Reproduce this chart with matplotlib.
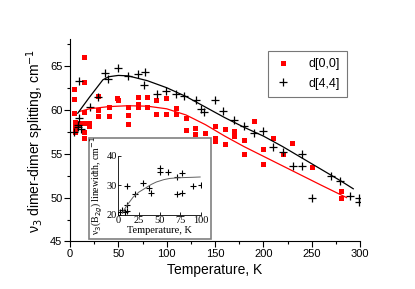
import numpy as np
import matplotlib.pyplot as plt
from matplotlib.patches import Rectangle
from matplotlib.ticker import MultipleLocator

# d[0,0] splitting, red squares
t_red = [4, 4, 4.5, 5, 5, 5, 8, 9, 10, 14.5, 14.5, 14.5, 14.5, 14.5, 14.5, 20, 20,
         29, 29, 29, 40, 40, 49, 49.5, 59.5, 59.5, 59.5, 70, 70, 70, 80, 80,
         89, 89, 99.5, 99.5, 110, 110, 120, 120, 129.5, 129.5, 140, 150, 150, 150,
         160, 160, 170, 170, 180, 180, 190, 200, 200, 210, 220, 230, 250, 280, 280]
v_red = [62.4, 61.2, 59.6, 58.6, 58.0, 57.5, 58.5, 58.3, 58.5, 66.0, 63.1, 59.7, 58.5, 57.5, 56.8, 58.5, 58.1,
         61.6, 60.0, 59.3, 60.3, 59.3, 61.3, 61.1, 60.3, 59.4, 58.4, 61.5, 60.7, 60.3, 61.5, 60.3,
         61.1, 59.5, 61.3, 59.5, 60.2, 59.5, 59.1, 57.7, 57.9, 57.2, 57.4, 58.1, 56.8, 56.4,
         57.8, 56.1, 57.6, 57.0, 56.6, 55.0, 58.7, 55.5, 53.8, 56.8, 54.9, 56.2, 53.5, 50.7, 49.9]

# d[4,4] splitting, black crosses
t_blk = [4, 8, 8.5, 9, 9.7, 11, 20.7, 29.3, 36, 39.7, 50, 60.4, 70.7, 76.6, 77.6,
         89.5, 99.5, 109.7, 117.5, 130, 135.5, 139, 150, 158.7, 170, 180.4, 190, 200,
         210, 220, 230.5, 240, 240, 250, 269.5, 279.5, 290, 298.5, 298.5]
v_blk = [57.5, 58.0, 58.3, 59.1, 63.3, 57.8, 60.3, 61.5, 64.2, 63.5, 64.8, 63.8, 64.1, 62.8, 64.3,
         61.8, 62.1, 61.8, 61.6, 61.1, 60.1, 59.7, 61.1, 59.8, 58.8, 58.2, 57.4, 57.6,
         55.7, 55.2, 53.6, 54.9, 53.6, 50.0, 52.5, 51.9, 50.2, 49.9, 49.5]

# fit curves
fit_red_t = [10, 20, 40, 60, 80, 100, 120, 140, 160, 180, 200, 220, 240, 260, 286]
fit_red_v = [59.8, 60.1, 60.35, 60.45, 60.4, 60.1, 59.4, 58.3, 57.0, 55.8, 54.7, 53.6, 52.5, 51.4, 50.0]
fit_blk_t = [8, 20, 34, 40, 50, 60, 80, 100, 120, 140, 160, 180, 200, 220, 240, 260, 280, 293]
fit_blk_v = [59.6, 61.4, 63.4, 63.75, 63.9, 63.85, 63.3, 62.5, 61.5, 60.3, 59.1, 58.0, 57.0, 55.8, 54.5, 53.2, 51.9, 51.0]

# inset: linewidth vs temperature
t_ins = [2, 5, 8, 10, 10, 11, 20, 30, 37, 40, 50, 50, 60, 71, 71, 77, 77, 90, 100]
w_ins = [21.1, 21.5, 20.8, 21.3, 23.2, 29.8, 27.0, 30.8, 29.2, 27.5, 35.9, 34.6, 34.6, 32.7, 27.0, 34.1, 27.4, 29.8, 30.0]
fit_ins_t = [5, 10, 18, 25, 32, 40, 46, 55, 62, 70, 79, 90, 99]
fit_ins_w = [20.7, 23.0, 26.0, 27.7, 28.9, 30.3, 31.1, 31.9, 32.3, 32.5, 32.6, 32.7, 32.8]

plt.rcParams['font.family'] = ['Liberation Sans', 'DejaVu Sans']

fig = plt.figure(figsize=(4.15, 2.89), dpi=100)
ax = fig.add_axes([0.1687, 0.1644, 0.6988, 0.6993])

ax.plot(t_red, v_red, 's', color='#ff0000', markersize=3.6, markeredgewidth=0, label='d[0,0]')
ax.plot(t_blk, v_blk, '+', color='black', markersize=5.5, markeredgewidth=0.9, label='d[4,4]')
ax.plot(fit_red_t, fit_red_v, '-', color='#ff0000', lw=0.9)
ax.plot(fit_blk_t, fit_blk_v, '-', color='black', lw=0.9)

ax.set_xlim(0, 300)
ax.set_ylim(45, 68)
ax.xaxis.set_major_locator(MultipleLocator(50))
ax.xaxis.set_minor_locator(MultipleLocator(25))
ax.yaxis.set_major_locator(MultipleLocator(5))
ax.yaxis.set_minor_locator(MultipleLocator(2.5))
for s in ['top', 'right']:
    ax.spines[s].set_visible(False)
ax.tick_params(which='major', length=4, width=0.8, labelsize=8, pad=1.5)
ax.tick_params(which='minor', length=2, width=0.8)
ax.set_xlabel('Temperature, K', fontsize=10, labelpad=3)
ax.set_ylabel('ν$_3$ dimer-dimer splitting, cm$^{-1}$', fontsize=10, labelpad=3)

leg = ax.legend(loc='upper right', bbox_to_anchor=(0.955, 0.945), fontsize=9,
                fancybox=False, edgecolor='#555555', handlelength=1.2,
                handletextpad=1.4, borderpad=0.6, labelspacing=0.6, borderaxespad=0)
leg.get_frame().set_linewidth(0.8)

# inset frame
fig.add_artist(Rectangle((0.2133, 0.1747), 0.2952, 0.3478, transform=fig.transFigure,
                         facecolor='white', edgecolor='#808080', lw=1.2, zorder=3))

axi = fig.add_axes([0.285, 0.2567, 0.1993, 0.2045], zorder=4)
axi.patch.set_alpha(0)
axi.plot(t_ins, w_ins, '+', color='black', markersize=5, markeredgewidth=0.8)
axi.plot(fit_ins_t, fit_ins_w, '-', color='#606060', lw=0.7)
axi.set_xlim(0, 100)
axi.set_ylim(20, 40)
axi.xaxis.set_major_locator(MultipleLocator(25))
axi.yaxis.set_major_locator(MultipleLocator(10))
for s in ['top', 'right']:
    axi.spines[s].set_visible(False)
for s in ['left', 'bottom']:
    axi.spines[s].set_linewidth(0.6)
axi.tick_params(direction='in', length=2.5, width=0.6, labelsize=7.5, pad=1)
for lab in axi.get_xticklabels() + axi.get_yticklabels():
    lab.set_family('Liberation Serif')
axi.set_xlabel('Temperature, K', fontsize=7.5, family='Liberation Serif', labelpad=0.5)
axi.set_ylabel('ν$_3$(B$_{2g}$) linewidth, cm$^{-1}$', fontsize=7, family='Liberation Serif', labelpad=1)

fig.savefig('out.png', dpi=100)
